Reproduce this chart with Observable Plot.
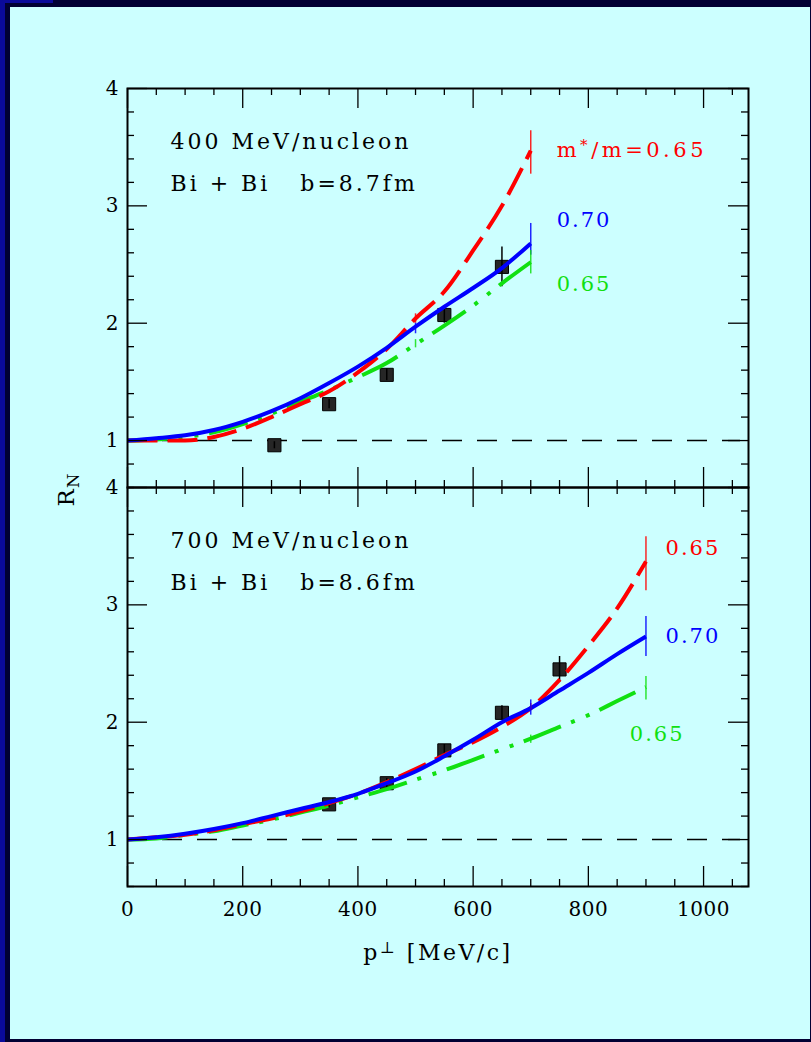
<!DOCTYPE html>
<html>
<head>
<meta charset="utf-8">
<script src="https://cdn.jsdelivr.net/npm/d3@7"></script>
<script src="https://cdn.jsdelivr.net/npm/@observablehq/plot@0.6"></script>
<style>
  html, body { margin: 0; padding: 0; background: #000033; }
  #page { position: relative; width: 811px; height: 1042px; overflow: hidden; background: #000033; }
  .strip { position: absolute; background: #0a0a9a; }
  #sheet { position: absolute; left: 10px; top: 7px; width: 800px; height: 1032px; background: #ccffff; }
  #upper, #lower { position: absolute; left: 0; }
  #upper { top: 0; }
  #lower { top: 487px; }
</style>
</head>
<body>
<div id="page">
  <div class="strip" style="left:0;top:0;width:5px;height:1042px"></div>
  <div class="strip" style="left:0;top:0;width:53px;height:3px"></div>
  <div id="sheet"></div>
  <div id="upper"></div>
  <div id="lower"></div>
</div>
<script>
// ---- Model curves: ratio R_N versus transverse momentum p (MeV/c) ----
const models = ["0.65a", "0.70", "0.65b"];
const modelColors = ["#ff0000", "#0000ff", "#11e011"];

// 400 MeV/nucleon, Bi + Bi, b = 8.7 fm
const p400 = [0, 50, 100, 150, 200, 250, 300, 350, 400, 450, 500, 550, 600, 650, 700];
const r400_065a = [1.00, 1.00, 1.00, 1.03, 1.10, 1.20, 1.31, 1.42, 1.58, 1.78, 2.04, 2.27, 2.62, 3.00, 3.47];
const r400_070  = [1.00, 1.02, 1.045, 1.09, 1.16, 1.25, 1.36, 1.49, 1.63, 1.79, 1.97, 2.14, 2.30, 2.47, 2.68];
const r400_065b = [1.00, 1.01, 1.03, 1.07, 1.14, 1.23, 1.33, 1.43, 1.54, 1.66, 1.82, 1.98, 2.15, 2.34, 2.52];

// 700 MeV/nucleon, Bi + Bi, b = 8.6 fm
const p700 = [0, 50, 100, 150, 200, 250, 300, 350, 400, 450, 500, 550, 600, 650, 700, 750, 800, 850, 900];
const r700_065a = [1.00, 1.02, 1.04, 1.08, 1.13, 1.18, 1.24, 1.31, 1.39, 1.49, 1.60, 1.72, 1.83, 1.96, 2.12, 2.36, 2.65, 2.97, 3.37];
const r700_070  = [1.00, 1.02, 1.05, 1.09, 1.14, 1.20, 1.26, 1.32, 1.39, 1.48, 1.58, 1.71, 1.85, 2.00, 2.12, 2.27, 2.42, 2.58, 2.73];
const r700_065b = [1.00, 1.01, 1.04, 1.07, 1.12, 1.17, 1.23, 1.29, 1.36, 1.43, 1.51, 1.59, 1.68, 1.77, 1.86, 1.96, 2.06, 2.18, 2.30];

// ---- Measured ratios with errors ----
const exp400_p   = [255, 350, 450, 550, 650];
const exp400_r   = [0.96, 1.31, 1.56, 2.07, 2.48];
const exp400_err = [0.03, 0.04, 0.05, 0.07, 0.17];
const exp700_p   = [350, 450, 550, 650, 750];
const exp700_r   = [1.30, 1.48, 1.76, 2.08, 2.45];
const exp700_err = [0.03, 0.04, 0.05, 0.06, 0.11];

// ---- Uncertainty markers on the model curves ----
const band400_p  = [500, 500, 500, 700, 700, 700];
const band400_m  = ["0.65a", "0.70", "0.65b", "0.65a", "0.70", "0.65b"];
const band400_lo = [2.00, 1.91, 1.79, 3.27, 2.58, 2.42];
const band400_hi = [2.08, 2.00, 1.86, 3.64, 2.85, 2.62];
const band700_p  = [700, 700, 700, 900, 900, 900];
const band700_m  = ["0.65a", "0.70", "0.65b", "0.65a", "0.70", "0.65b"];
const band700_lo = [2.10, 2.06, 1.82, 3.12, 2.56, 2.19];
const band700_hi = [2.16, 2.19, 1.89, 3.58, 2.90, 2.39];

// ---- Curve labels ----
const label400_text = ["m^{*}/m=0.65", "0.70", "0.65"];
const label400_p    = [745, 745, 745];
const label400_r    = [3.47, 2.88, 2.33];
const label400_m    = ["0.65a", "0.70", "0.65b"];
const label700_text = ["0.65", "0.70", "0.65"];
const label700_p    = [934, 934, 872];
const label700_r    = [3.48, 2.73, 1.90];
const label700_m    = ["0.65a", "0.70", "0.65b"];

// ---- Panel titles and axes ----
const title400 = ["400 MeV/nucleon", "Bi + Bi\u00a0\u00a0\u00a0b=8.7fm"];
const title700 = ["700 MeV/nucleon", "Bi + Bi\u00a0\u00a0\u00a0b=8.6fm"];
const xTicks = [0, 200, 400, 600, 800, 1000];
const xTickLabels = ["0", "200", "400", "600", "800", "1000"];
const yTicks = [1, 2, 3, 4];
const xLabel = "p^{\u22a5} [MeV/c]";
const yLabel = "R_{N}";

const xDomain = [0, 1078];
const yDomain = [0.6, 4];
const xMinor = d3.range(50, 1076, 50).filter(v => v % 200 !== 0);
const yMinor = d3.range(6, 41, 2).map(v => v / 10).filter(v => !Number.isInteger(v));

// ---- Layout ----
const W = 811, mL = 127, mR = 63, innerH = 399;
const innerW = W - mL - mR;
const MAJOR = 20, MINOR = 7;

const rows = (grid, vals, model) => grid.map((p, i) => ({p, r: vals[i], model}));
const zipExp = (ps, rs, es) => ps.map((p, i) => ({p, r: rs[i], err: es[i]}));
const zipBand = (ps, ms, lo, hi) => ps.map((p, i) => ({p, model: ms[i], lo: lo[i], hi: hi[i]}));
const zipLabel = (ts, ps, rs, ms) => ts.map((text, i) => ({text, p: ps[i], r: rs[i], model: ms[i]}));

// Inward-pointing ticks on all four sides of a panel frame
function frameTicks() {
  const k = {stroke: "black", strokeWidth: 1.3};
  return [
    Plot.tickX(xTicks, {x: d => d, insetBottom: innerH - MAJOR, ...k}),
    Plot.tickX(xMinor, {x: d => d, insetBottom: innerH - MINOR, ...k}),
    Plot.tickX(xTicks, {x: d => d, insetTop: innerH - MAJOR, ...k}),
    Plot.tickX(xMinor, {x: d => d, insetTop: innerH - MINOR, ...k}),
    Plot.tickY(yTicks, {y: d => d, insetRight: innerW - MAJOR, ...k}),
    Plot.tickY(yMinor, {y: d => d, insetRight: innerW - MINOR, ...k}),
    Plot.tickY(yTicks, {y: d => d, insetLeft: innerW - MAJOR, ...k}),
    Plot.tickY(yMinor, {y: d => d, insetLeft: innerW - MINOR, ...k})
  ];
}

function curves(grid, a, b, c) {
  const common = {x: "p", y: "r", stroke: "model", strokeWidth: 4, strokeLinecap: "butt", curve: "monotone-x"};
  return [
    Plot.line(rows(grid, c, "0.65b"), {...common, strokeDasharray: "40,11,4,12,4,11"}),
    Plot.line(rows(grid, a, "0.65a"), {...common, strokeDasharray: "30,10"}),
    Plot.line(rows(grid, b, "0.70"), {...common})
  ];
}

function panel({grid, a, b, c, exp, bands, labels, titles, top, extra}) {
  return Plot.plot({
    width: W,
    height: top ? 88 + innerH : innerH + 156,
    marginTop: top ? 88 : 0,
    marginBottom: top ? 0 : 156,
    marginLeft: mL,
    marginRight: mR,
    x: {domain: xDomain, axis: null},
    y: {domain: yDomain, axis: null},
    color: {domain: models, range: modelColors},
    style: {background: "transparent", overflow: "visible", fontFamily: "'DejaVu Serif', serif", fontSize: "20px", color: "black"},
    marks: [
      Plot.ruleY([1], {y: d => d, stroke: "black", strokeWidth: 1.4, strokeDasharray: "20,15", insetRight: 8}),
      Plot.dot(exp, {x: "p", y: "r", symbol: "square", r: 7.4, fill: "#262626", stroke: "#000", strokeWidth: 1}),
      Plot.ruleX(exp, {x: "p", y1: d => d.r - d.err, y2: d => d.r + d.err, stroke: "black", strokeWidth: 1.5}),
      ...curves(grid, a, b, c),
      Plot.ruleX(bands, {x: "p", y1: "lo", y2: "hi", stroke: "model", strokeWidth: 1.5, strokeOpacity: 0.85}),
      Plot.text(labels, {x: "p", y: "r", text: "text", fill: "model", textAnchor: "start", lineAnchor: "middle", fontSize: 21}),
      Plot.text([titles[0]], {text: d => d, frameAnchor: "top-left", dx: 43, dy: 53, textAnchor: "start", lineAnchor: "middle", fontSize: 22, fill: "black"}),
      Plot.text([titles[1]], {text: d => d, frameAnchor: "top-left", dx: 43, dy: 95, textAnchor: "start", lineAnchor: "middle", fontSize: 22, fill: "black"}),
      Plot.axisY(yTicks, {anchor: "left", tickSize: 0, tickPadding: 9, label: null, fontSize: 20, tickFormat: d => String(d)}),
      ...frameTicks(),
      Plot.frame({stroke: "black", strokeWidth: 2}),
      ...extra
    ]
  });
}

const spacing = new Map([
  [title400[0], 3], [title400[1], 3], [title700[0], 3], [title700[1], 3],
  [xLabel, 2.5], [yLabel, 1],
  ...label400_text.map(t => [t, 2]), ...label700_text.map(t => [t, 2]),
  [label400_text[0], 3.5],
  ...xTickLabels.map(t => [t, 0.5])
]);

// Letter spacing plus ^{...} / _{...} super- and subscripts as tspans
function finishText(svg) {
  d3.select(svg).selectAll("text").each(function() {
    const node = d3.select(this);
    const s = node.text();
    if (spacing.has(s)) node.style("letter-spacing", spacing.get(s) + "px");
    if (!/[\^_]\{/.test(s)) return;
    node.text(null);
    const re = /([\^_])\{([^}]*)\}/g;
    let last = 0, m;
    while ((m = re.exec(s))) {
      if (m.index > last) node.append("tspan").text(s.slice(last, m.index));
      node.append("tspan")
        .attr("baseline-shift", m[1] === "^" ? "45%" : "-30%")
        .attr("font-size", "72%")
        .text(m[2]);
      last = re.lastIndex;
    }
    if (last < s.length) node.append("tspan").text(s.slice(last));
  });
  return svg;
}

const upper = panel({
  grid: p400, a: r400_065a, b: r400_070, c: r400_065b,
  exp: zipExp(exp400_p, exp400_r, exp400_err),
  bands: zipBand(band400_p, band400_m, band400_lo, band400_hi),
  labels: zipLabel(label400_text, label400_p, label400_r, label400_m),
  titles: title400, top: true,
  extra: [
    Plot.text([yLabel], {text: d => d, frameAnchor: "bottom-left", dx: -61, dy: 2, rotate: -90, textAnchor: "middle", lineAnchor: "middle", fontSize: 23, fill: "black"})
  ]
});

const lower = panel({
  grid: p700, a: r700_065a, b: r700_070, c: r700_065b,
  exp: zipExp(exp700_p, exp700_r, exp700_err),
  bands: zipBand(band700_p, band700_m, band700_lo, band700_hi),
  labels: zipLabel(label700_text, label700_p, label700_r, label700_m),
  titles: title700, top: false,
  extra: [
    Plot.axisX(xTicks, {anchor: "bottom", tickSize: 0, tickPadding: 15, label: null, fontSize: 20, tickFormat: d => xTickLabels[xTicks.indexOf(d)]}),
    Plot.text([xLabel], {text: d => d, frameAnchor: "bottom", dy: 66, textAnchor: "middle", lineAnchor: "middle", fontSize: 22, fill: "black"})
  ]
});

document.getElementById("upper").append(finishText(upper));
document.getElementById("lower").append(finishText(lower));
</script>
</body>
</html>
